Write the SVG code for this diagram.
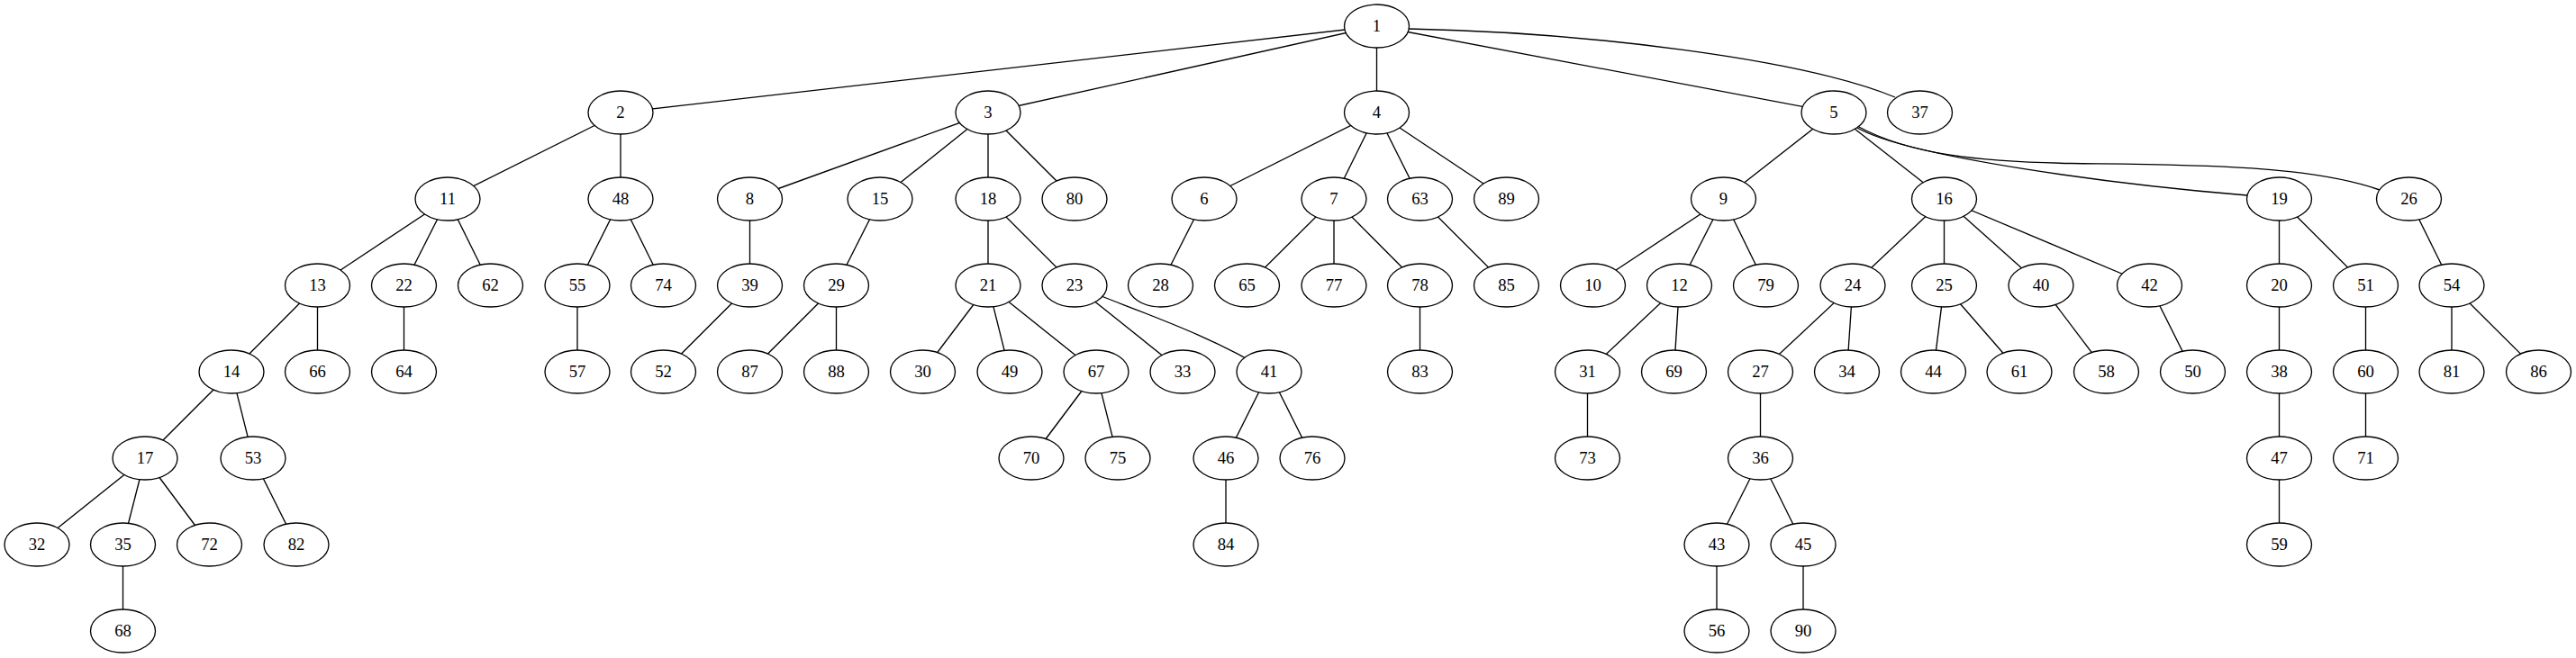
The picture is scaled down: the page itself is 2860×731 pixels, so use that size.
<svg xmlns="http://www.w3.org/2000/svg" width="2860" height="731" viewBox="0 0 2860 731">
<style>
.node ellipse{fill:#fff;stroke:#000;stroke-width:1.33}
.node text{font-family:"Liberation Serif","Times New Roman",serif;font-size:18.67px;text-anchor:middle;fill:#000}
#edges line,#edges path{stroke:#000;stroke-width:1.33;fill:none}
</style>
<rect width="2860" height="731" fill="#fff"/>
<g id="edges">
<line x1="1528.5" y1="29" x2="689" y2="125"/>
<line x1="1528.5" y1="29" x2="1097" y2="125"/>
<line x1="1528.5" y1="29" x2="1528.5" y2="125"/>
<line x1="1528.5" y1="29" x2="2036" y2="125"/>
<path d="M1564,32 C1760,36 2000,65 2104,108"/>
<line x1="689" y1="125" x2="497" y2="221"/>
<line x1="689" y1="125" x2="689" y2="221"/>
<line x1="1097" y1="125" x2="832.5" y2="221"/>
<line x1="1097" y1="125" x2="977" y2="221"/>
<line x1="1097" y1="125" x2="1097" y2="221"/>
<line x1="1097" y1="125" x2="1193" y2="221"/>
<line x1="1528.5" y1="125" x2="1337" y2="221"/>
<line x1="1528.5" y1="125" x2="1481" y2="221"/>
<line x1="1528.5" y1="125" x2="1576.5" y2="221"/>
<line x1="1528.5" y1="125" x2="1672.5" y2="221"/>
<line x1="2036" y1="125" x2="1913.5" y2="221"/>
<line x1="2036" y1="125" x2="2158.5" y2="221"/>
<path d="M2062,142 C2120,175 2350,205 2495,217"/>
<path d="M2062,140 C2120,172 2200,180 2300,181.5 C2420,183 2560,182 2642,211"/>
<line x1="497" y1="221" x2="352.5" y2="317"/>
<line x1="497" y1="221" x2="448.5" y2="317"/>
<line x1="497" y1="221" x2="544.5" y2="317"/>
<line x1="689" y1="221" x2="641" y2="317"/>
<line x1="689" y1="221" x2="736.5" y2="317"/>
<line x1="832.5" y1="221" x2="832.5" y2="317"/>
<line x1="977" y1="221" x2="928.5" y2="317"/>
<line x1="1097" y1="221" x2="1097" y2="317"/>
<line x1="1097" y1="221" x2="1193" y2="317"/>
<line x1="1337" y1="221" x2="1288.5" y2="317"/>
<line x1="1481" y1="221" x2="1384.5" y2="317"/>
<line x1="1481" y1="221" x2="1481" y2="317"/>
<line x1="1481" y1="221" x2="1576.5" y2="317"/>
<line x1="1576.5" y1="221" x2="1672.5" y2="317"/>
<line x1="1913.5" y1="221" x2="1768.5" y2="317"/>
<line x1="1913.5" y1="221" x2="1864.5" y2="317"/>
<line x1="1913.5" y1="221" x2="1960.5" y2="317"/>
<line x1="2158.5" y1="221" x2="2057" y2="317"/>
<line x1="2158.5" y1="221" x2="2158.5" y2="317"/>
<line x1="2158.5" y1="221" x2="2266" y2="317"/>
<line x1="2158.5" y1="221" x2="2386.5" y2="317"/>
<line x1="2530.5" y1="221" x2="2530.5" y2="317"/>
<line x1="2530.5" y1="221" x2="2626.5" y2="317"/>
<line x1="2674.5" y1="221" x2="2722" y2="317"/>
<line x1="352.5" y1="317" x2="257" y2="413"/>
<line x1="352.5" y1="317" x2="352.5" y2="413"/>
<line x1="448.5" y1="317" x2="448.5" y2="413"/>
<line x1="641" y1="317" x2="641" y2="413"/>
<line x1="832.5" y1="317" x2="736.5" y2="413"/>
<line x1="928.5" y1="317" x2="832.5" y2="413"/>
<line x1="928.5" y1="317" x2="928.5" y2="413"/>
<line x1="1097" y1="317" x2="1024.5" y2="413"/>
<line x1="1097" y1="317" x2="1121" y2="413"/>
<line x1="1097" y1="317" x2="1217" y2="413"/>
<line x1="1193" y1="317" x2="1313" y2="413"/>
<path d="M1193,317 C1260,345 1340,370 1409,413"/>
<line x1="1576.5" y1="317" x2="1576.5" y2="413"/>
<line x1="1864.5" y1="317" x2="1762.5" y2="413"/>
<line x1="1864.5" y1="317" x2="1858.5" y2="413"/>
<line x1="2057" y1="317" x2="1954.5" y2="413"/>
<line x1="2057" y1="317" x2="2050.5" y2="413"/>
<line x1="2158.5" y1="317" x2="2146.5" y2="413"/>
<line x1="2158.5" y1="317" x2="2242" y2="413"/>
<line x1="2266" y1="317" x2="2338.5" y2="413"/>
<line x1="2386.5" y1="317" x2="2434.5" y2="413"/>
<line x1="2530.5" y1="317" x2="2530.5" y2="413"/>
<line x1="2626.5" y1="317" x2="2626.5" y2="413"/>
<line x1="2722" y1="317" x2="2722" y2="413"/>
<line x1="2722" y1="317" x2="2818.5" y2="413"/>
<line x1="257" y1="413" x2="161" y2="509"/>
<line x1="257" y1="413" x2="281" y2="509"/>
<line x1="1217" y1="413" x2="1145" y2="509"/>
<line x1="1217" y1="413" x2="1241" y2="509"/>
<line x1="1409" y1="413" x2="1361" y2="509"/>
<line x1="1409" y1="413" x2="1457" y2="509"/>
<line x1="1762.5" y1="413" x2="1762.5" y2="509"/>
<line x1="1954.5" y1="413" x2="1954.5" y2="509"/>
<line x1="2530.5" y1="413" x2="2530.5" y2="509"/>
<line x1="2626.5" y1="413" x2="2626.5" y2="509"/>
<line x1="161" y1="509" x2="41" y2="605"/>
<line x1="161" y1="509" x2="136.5" y2="605"/>
<line x1="161" y1="509" x2="232.5" y2="605"/>
<line x1="281" y1="509" x2="329" y2="605"/>
<line x1="1361" y1="509" x2="1361" y2="605"/>
<line x1="1954.5" y1="509" x2="1906" y2="605"/>
<line x1="1954.5" y1="509" x2="2002" y2="605"/>
<line x1="2530.5" y1="509" x2="2530.5" y2="605"/>
<line x1="136.5" y1="605" x2="136.5" y2="701"/>
<line x1="1906" y1="605" x2="1906" y2="701"/>
<line x1="2002" y1="605" x2="2002" y2="701"/>
</g>
<g id="n1" class="node"><ellipse cx="1528.5" cy="29" rx="36" ry="24"/><text x="1528.5" y="35">1</text></g>
<g id="n2" class="node"><ellipse cx="689" cy="125" rx="36" ry="24"/><text x="689" y="131">2</text></g>
<g id="n3" class="node"><ellipse cx="1097" cy="125" rx="36" ry="24"/><text x="1097" y="131">3</text></g>
<g id="n4" class="node"><ellipse cx="1528.5" cy="125" rx="36" ry="24"/><text x="1528.5" y="131">4</text></g>
<g id="n5" class="node"><ellipse cx="2036" cy="125" rx="36" ry="24"/><text x="2036" y="131">5</text></g>
<g id="n37" class="node"><ellipse cx="2131.5" cy="125" rx="36" ry="24"/><text x="2131.5" y="131">37</text></g>
<g id="n11" class="node"><ellipse cx="497" cy="221" rx="36" ry="24"/><text x="497" y="227">11</text></g>
<g id="n48" class="node"><ellipse cx="689" cy="221" rx="36" ry="24"/><text x="689" y="227">48</text></g>
<g id="n8" class="node"><ellipse cx="832.5" cy="221" rx="36" ry="24"/><text x="832.5" y="227">8</text></g>
<g id="n15" class="node"><ellipse cx="977" cy="221" rx="36" ry="24"/><text x="977" y="227">15</text></g>
<g id="n18" class="node"><ellipse cx="1097" cy="221" rx="36" ry="24"/><text x="1097" y="227">18</text></g>
<g id="n80" class="node"><ellipse cx="1193" cy="221" rx="36" ry="24"/><text x="1193" y="227">80</text></g>
<g id="n6" class="node"><ellipse cx="1337" cy="221" rx="36" ry="24"/><text x="1337" y="227">6</text></g>
<g id="n7" class="node"><ellipse cx="1481" cy="221" rx="36" ry="24"/><text x="1481" y="227">7</text></g>
<g id="n63" class="node"><ellipse cx="1576.5" cy="221" rx="36" ry="24"/><text x="1576.5" y="227">63</text></g>
<g id="n89" class="node"><ellipse cx="1672.5" cy="221" rx="36" ry="24"/><text x="1672.5" y="227">89</text></g>
<g id="n9" class="node"><ellipse cx="1913.5" cy="221" rx="36" ry="24"/><text x="1913.5" y="227">9</text></g>
<g id="n16" class="node"><ellipse cx="2158.5" cy="221" rx="36" ry="24"/><text x="2158.5" y="227">16</text></g>
<g id="n19" class="node"><ellipse cx="2530.5" cy="221" rx="36" ry="24"/><text x="2530.5" y="227">19</text></g>
<g id="n26" class="node"><ellipse cx="2674.5" cy="221" rx="36" ry="24"/><text x="2674.5" y="227">26</text></g>
<g id="n13" class="node"><ellipse cx="352.5" cy="317" rx="36" ry="24"/><text x="352.5" y="323">13</text></g>
<g id="n22" class="node"><ellipse cx="448.5" cy="317" rx="36" ry="24"/><text x="448.5" y="323">22</text></g>
<g id="n62" class="node"><ellipse cx="544.5" cy="317" rx="36" ry="24"/><text x="544.5" y="323">62</text></g>
<g id="n55" class="node"><ellipse cx="641" cy="317" rx="36" ry="24"/><text x="641" y="323">55</text></g>
<g id="n74" class="node"><ellipse cx="736.5" cy="317" rx="36" ry="24"/><text x="736.5" y="323">74</text></g>
<g id="n39" class="node"><ellipse cx="832.5" cy="317" rx="36" ry="24"/><text x="832.5" y="323">39</text></g>
<g id="n29" class="node"><ellipse cx="928.5" cy="317" rx="36" ry="24"/><text x="928.5" y="323">29</text></g>
<g id="n21" class="node"><ellipse cx="1097" cy="317" rx="36" ry="24"/><text x="1097" y="323">21</text></g>
<g id="n23" class="node"><ellipse cx="1193" cy="317" rx="36" ry="24"/><text x="1193" y="323">23</text></g>
<g id="n28" class="node"><ellipse cx="1288.5" cy="317" rx="36" ry="24"/><text x="1288.5" y="323">28</text></g>
<g id="n65" class="node"><ellipse cx="1384.5" cy="317" rx="36" ry="24"/><text x="1384.5" y="323">65</text></g>
<g id="n77" class="node"><ellipse cx="1481" cy="317" rx="36" ry="24"/><text x="1481" y="323">77</text></g>
<g id="n78" class="node"><ellipse cx="1576.5" cy="317" rx="36" ry="24"/><text x="1576.5" y="323">78</text></g>
<g id="n85" class="node"><ellipse cx="1672.5" cy="317" rx="36" ry="24"/><text x="1672.5" y="323">85</text></g>
<g id="n10" class="node"><ellipse cx="1768.5" cy="317" rx="36" ry="24"/><text x="1768.5" y="323">10</text></g>
<g id="n12" class="node"><ellipse cx="1864.5" cy="317" rx="36" ry="24"/><text x="1864.5" y="323">12</text></g>
<g id="n79" class="node"><ellipse cx="1960.5" cy="317" rx="36" ry="24"/><text x="1960.5" y="323">79</text></g>
<g id="n24" class="node"><ellipse cx="2057" cy="317" rx="36" ry="24"/><text x="2057" y="323">24</text></g>
<g id="n25" class="node"><ellipse cx="2158.5" cy="317" rx="36" ry="24"/><text x="2158.5" y="323">25</text></g>
<g id="n40" class="node"><ellipse cx="2266" cy="317" rx="36" ry="24"/><text x="2266" y="323">40</text></g>
<g id="n42" class="node"><ellipse cx="2386.5" cy="317" rx="36" ry="24"/><text x="2386.5" y="323">42</text></g>
<g id="n20" class="node"><ellipse cx="2530.5" cy="317" rx="36" ry="24"/><text x="2530.5" y="323">20</text></g>
<g id="n51" class="node"><ellipse cx="2626.5" cy="317" rx="36" ry="24"/><text x="2626.5" y="323">51</text></g>
<g id="n54" class="node"><ellipse cx="2722" cy="317" rx="36" ry="24"/><text x="2722" y="323">54</text></g>
<g id="n14" class="node"><ellipse cx="257" cy="413" rx="36" ry="24"/><text x="257" y="419">14</text></g>
<g id="n66" class="node"><ellipse cx="352.5" cy="413" rx="36" ry="24"/><text x="352.5" y="419">66</text></g>
<g id="n64" class="node"><ellipse cx="448.5" cy="413" rx="36" ry="24"/><text x="448.5" y="419">64</text></g>
<g id="n57" class="node"><ellipse cx="641" cy="413" rx="36" ry="24"/><text x="641" y="419">57</text></g>
<g id="n52" class="node"><ellipse cx="736.5" cy="413" rx="36" ry="24"/><text x="736.5" y="419">52</text></g>
<g id="n87" class="node"><ellipse cx="832.5" cy="413" rx="36" ry="24"/><text x="832.5" y="419">87</text></g>
<g id="n88" class="node"><ellipse cx="928.5" cy="413" rx="36" ry="24"/><text x="928.5" y="419">88</text></g>
<g id="n30" class="node"><ellipse cx="1024.5" cy="413" rx="36" ry="24"/><text x="1024.5" y="419">30</text></g>
<g id="n49" class="node"><ellipse cx="1121" cy="413" rx="36" ry="24"/><text x="1121" y="419">49</text></g>
<g id="n67" class="node"><ellipse cx="1217" cy="413" rx="36" ry="24"/><text x="1217" y="419">67</text></g>
<g id="n33" class="node"><ellipse cx="1313" cy="413" rx="36" ry="24"/><text x="1313" y="419">33</text></g>
<g id="n41" class="node"><ellipse cx="1409" cy="413" rx="36" ry="24"/><text x="1409" y="419">41</text></g>
<g id="n83" class="node"><ellipse cx="1576.5" cy="413" rx="36" ry="24"/><text x="1576.5" y="419">83</text></g>
<g id="n31" class="node"><ellipse cx="1762.5" cy="413" rx="36" ry="24"/><text x="1762.5" y="419">31</text></g>
<g id="n69" class="node"><ellipse cx="1858.5" cy="413" rx="36" ry="24"/><text x="1858.5" y="419">69</text></g>
<g id="n27" class="node"><ellipse cx="1954.5" cy="413" rx="36" ry="24"/><text x="1954.5" y="419">27</text></g>
<g id="n34" class="node"><ellipse cx="2050.5" cy="413" rx="36" ry="24"/><text x="2050.5" y="419">34</text></g>
<g id="n44" class="node"><ellipse cx="2146.5" cy="413" rx="36" ry="24"/><text x="2146.5" y="419">44</text></g>
<g id="n61" class="node"><ellipse cx="2242" cy="413" rx="36" ry="24"/><text x="2242" y="419">61</text></g>
<g id="n58" class="node"><ellipse cx="2338.5" cy="413" rx="36" ry="24"/><text x="2338.5" y="419">58</text></g>
<g id="n50" class="node"><ellipse cx="2434.5" cy="413" rx="36" ry="24"/><text x="2434.5" y="419">50</text></g>
<g id="n38" class="node"><ellipse cx="2530.5" cy="413" rx="36" ry="24"/><text x="2530.5" y="419">38</text></g>
<g id="n60" class="node"><ellipse cx="2626.5" cy="413" rx="36" ry="24"/><text x="2626.5" y="419">60</text></g>
<g id="n81" class="node"><ellipse cx="2722" cy="413" rx="36" ry="24"/><text x="2722" y="419">81</text></g>
<g id="n86" class="node"><ellipse cx="2818.5" cy="413" rx="36" ry="24"/><text x="2818.5" y="419">86</text></g>
<g id="n17" class="node"><ellipse cx="161" cy="509" rx="36" ry="24"/><text x="161" y="515">17</text></g>
<g id="n53" class="node"><ellipse cx="281" cy="509" rx="36" ry="24"/><text x="281" y="515">53</text></g>
<g id="n70" class="node"><ellipse cx="1145" cy="509" rx="36" ry="24"/><text x="1145" y="515">70</text></g>
<g id="n75" class="node"><ellipse cx="1241" cy="509" rx="36" ry="24"/><text x="1241" y="515">75</text></g>
<g id="n46" class="node"><ellipse cx="1361" cy="509" rx="36" ry="24"/><text x="1361" y="515">46</text></g>
<g id="n76" class="node"><ellipse cx="1457" cy="509" rx="36" ry="24"/><text x="1457" y="515">76</text></g>
<g id="n73" class="node"><ellipse cx="1762.5" cy="509" rx="36" ry="24"/><text x="1762.5" y="515">73</text></g>
<g id="n36" class="node"><ellipse cx="1954.5" cy="509" rx="36" ry="24"/><text x="1954.5" y="515">36</text></g>
<g id="n47" class="node"><ellipse cx="2530.5" cy="509" rx="36" ry="24"/><text x="2530.5" y="515">47</text></g>
<g id="n71" class="node"><ellipse cx="2626.5" cy="509" rx="36" ry="24"/><text x="2626.5" y="515">71</text></g>
<g id="n32" class="node"><ellipse cx="41" cy="605" rx="36" ry="24"/><text x="41" y="611">32</text></g>
<g id="n35" class="node"><ellipse cx="136.5" cy="605" rx="36" ry="24"/><text x="136.5" y="611">35</text></g>
<g id="n72" class="node"><ellipse cx="232.5" cy="605" rx="36" ry="24"/><text x="232.5" y="611">72</text></g>
<g id="n82" class="node"><ellipse cx="329" cy="605" rx="36" ry="24"/><text x="329" y="611">82</text></g>
<g id="n84" class="node"><ellipse cx="1361" cy="605" rx="36" ry="24"/><text x="1361" y="611">84</text></g>
<g id="n43" class="node"><ellipse cx="1906" cy="605" rx="36" ry="24"/><text x="1906" y="611">43</text></g>
<g id="n45" class="node"><ellipse cx="2002" cy="605" rx="36" ry="24"/><text x="2002" y="611">45</text></g>
<g id="n59" class="node"><ellipse cx="2530.5" cy="605" rx="36" ry="24"/><text x="2530.5" y="611">59</text></g>
<g id="n68" class="node"><ellipse cx="136.5" cy="701" rx="36" ry="24"/><text x="136.5" y="707">68</text></g>
<g id="n56" class="node"><ellipse cx="1906" cy="701" rx="36" ry="24"/><text x="1906" y="707">56</text></g>
<g id="n90" class="node"><ellipse cx="2002" cy="701" rx="36" ry="24"/><text x="2002" y="707">90</text></g>
</svg>
